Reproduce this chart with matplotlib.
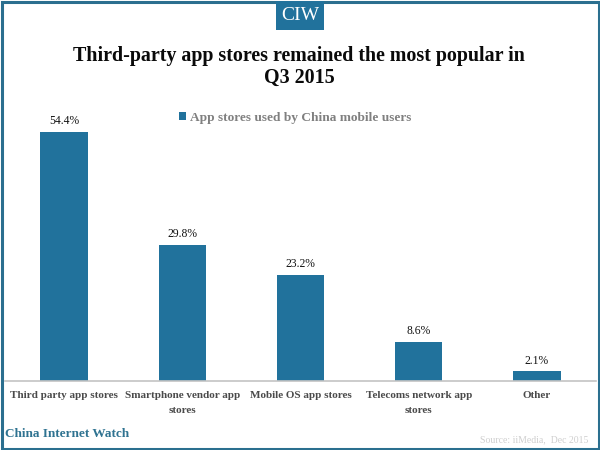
import matplotlib
matplotlib.use("Agg")
import matplotlib.pyplot as plt
from matplotlib.patches import Rectangle

categories = ["Third party app stores", "Smartphone vendor app\nstores", "Mobile OS app stores",
              "Telecoms network app\nstores", "Other"]
values = [54.4, 29.8, 23.2, 8.6, 2.1]
series_name = "App stores used by China mobile users"
title = "Third-party app stores remained the most popular in\nQ3 2015"
blue = "#21729c"
frame = "#2b6f8f"

plt.rcParams['font.family'] = ['Liberation Serif', 'DejaVu Serif']
W, H = 600, 450
fig = plt.figure(figsize=(6, 4.5), dpi=100, facecolor="white")

ax = fig.add_axes([5/W, 1-381/H, 591/W, 249/H])
x = range(len(values))
bars = ax.bar(x, values, width=0.4, color=blue, label=series_name)
ax.set_xlim(-0.5, 4.5)
ax.set_ylim(0, 54.4)
ax.set_yticks([])
for s in ("top", "left", "right"):
    ax.spines[s].set_visible(False)
ax.spines["bottom"].set_color("#c4c4c4")
ax.spines["bottom"].set_linewidth(1.2)
ax.set_xticks(list(x))
ax.set_xticklabels(categories, fontsize=8.0, fontweight="bold", color="#4a4a4a", linespacing=1.75)
ax.tick_params(axis="x", length=0, pad=7.5)
for xi, v in zip(x, values):
    ax.annotate(f"{v}%", (xi, v), xytext=(0, 3.5), textcoords="offset points", ha="center",
                va="bottom", fontsize=8.4, color="#111111", annotation_clip=False)

fig.legend(handles=[bars], labels=[series_name], loc="center", bbox_to_anchor=(295/W, 1-118/H),
           frameon=False, handlelength=0.55, handleheight=0.55, handletextpad=0.3,
           labelcolor="#808080", prop={"weight": "bold", "size": 9.6})

fig.text(299/W, 1-67/H, title, ha="center", va="center", fontsize=14.4, fontweight="bold",
         color="#0a0a0a", linespacing=1.18)

fig.add_artist(Rectangle((1.5/W, 1.5/H), 597/W, 447/H, transform=fig.transFigure, fill=False,
                         edgecolor=frame, linewidth=2.2))
fig.add_artist(Rectangle((276/W, 1-30/H), 48/W, 29/H, transform=fig.transFigure, color=blue, lw=0))
fig.text(300/W, 1-15.5/H, "CIW", ha="center", va="center", fontsize=14, color="white")
fig.text(5/W, 1-434/H, "China Internet Watch", ha="left", va="center", fontsize=9.5,
         fontweight="bold", color="#2f7391")
fig.text(588/W, 1-440/H, "Source: iiMedia,  Dec 2015", ha="right", va="center", fontsize=7.0,
         color="#cfcfcf")
fig.savefig("out.png", dpi=100)
